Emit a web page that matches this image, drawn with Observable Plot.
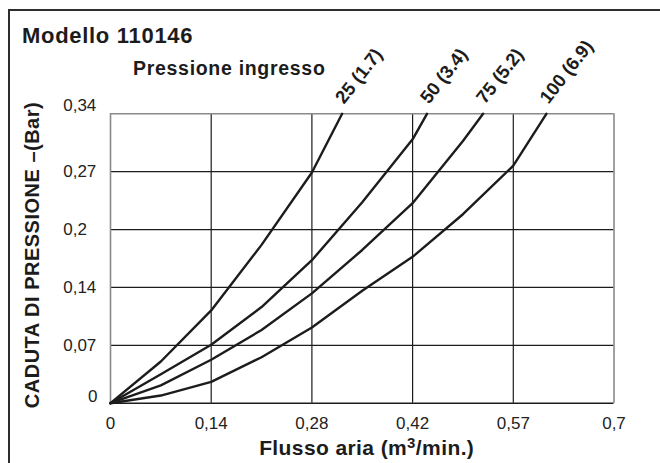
<!DOCTYPE html>
<html><head><meta charset="utf-8">
<script src="https://cdn.jsdelivr.net/npm/d3@7"></script>
<script src="https://cdn.jsdelivr.net/npm/@observablehq/plot@0.6"></script>
<style>
html,body{margin:0;padding:0;background:#fff;}
#wrap{position:relative;width:660px;height:463px;overflow:hidden;background:#fff;}
#wrap svg{position:absolute;left:0;top:0;}
#border{position:absolute;left:8px;top:9px;width:700px;height:500px;border-left:2.3px solid #2e2e2e;border-top:2.3px solid #2e2e2e;z-index:2;}
</style></head><body><div id="wrap"><div id="border"></div></div>
<script>
// ---- data ----
const series = ["25 (1.7)", "50 (3.4)", "75 (5.2)", "100 (6.9)"];
const flow25  = [0, 0.07, 0.14, 0.21, 0.28, 0.322];
const drop25  = [0, 0.049, 0.109, 0.186, 0.271, 0.34];
const flow50  = [0, 0.07, 0.14, 0.21, 0.28, 0.35, 0.42, 0.44];
const drop50  = [0, 0.034, 0.0686, 0.113, 0.168, 0.236, 0.31, 0.34];
const flow75  = [0, 0.07, 0.14, 0.21, 0.28, 0.35, 0.42, 0.49, 0.518];
const drop75  = [0, 0.021, 0.051, 0.086, 0.129, 0.18, 0.235, 0.308, 0.34];
const flow100 = [0, 0.07, 0.14, 0.21, 0.28, 0.35, 0.42, 0.49, 0.56, 0.606];
const drop100 = [0, 0.009, 0.025, 0.054, 0.089, 0.132, 0.172, 0.222, 0.279, 0.34];

const xTickValues = [0, 0.14, 0.28, 0.42, 0.56, 0.7];
const xTickLabels = ["0", "0,14", "0,28", "0,42", "0,57", "0,7"];
const yTickValues = [0, 0.068, 0.136, 0.204, 0.272, 0.34];
const yTickLabels = ["0", "0,07", "0,14", "0,2", "0,27", "0,34"];

const titleText = "Modello 110146";
const legendTitle = "Pressione ingresso";
const xLabel = ["Flusso aria (m", "3", "/min.)"];
const yLabel = "CADUTA DI PRESSIONE –(Bar)";

// ---- build table ----
const flows = [flow25, flow50, flow75, flow100];
const drops = [drop25, drop50, drop75, drop100];
const rows = series.flatMap((s, i) => flows[i].map((f, j) => ({series: s, flow: f, drop: drops[i][j]})));
const xLab = new Map(xTickValues.map((v, i) => [v, xTickLabels[i]]));
const yLab = new Map(yTickValues.map((v, i) => [v, yTickLabels[i]]));
const xMin = xTickValues[0], xMax = xTickValues[xTickValues.length - 1];
const yMin = yTickValues[0], yMax = yTickValues[yTickValues.length - 1];

const ink = "#1c1c1c";
const chart = Plot.plot({
  width: 660, height: 463,
  marginLeft: 110, marginRight: 46.5, marginTop: 113.3, marginBottom: 60.3,
  style: {fontFamily: "'Liberation Sans', Arial, sans-serif", fontSize: "17px", color: "#222", background: "transparent"},
  x: {domain: [xMin, xMax], axis: null},
  y: {domain: [yMin, yMax], axis: null},
  marks: [
    Plot.ruleX(xTickValues.filter(v => v > xMin && v < xMax), {stroke: ink, strokeWidth: 1.2}),
    Plot.ruleY(yTickValues.filter(v => v > yMin && v < yMax), {stroke: ink, strokeWidth: 1.2}),
    Plot.ruleX([xMin, xMax], {stroke: "#8a8a8a", strokeWidth: 1.6}),
    Plot.ruleY([yMax], {stroke: "#8a8a8a", strokeWidth: 1.6}),
    Plot.ruleY([yMin], {stroke: ink, strokeWidth: 1.4}),
    Plot.line(rows, {x: "flow", y: "drop", z: "series", stroke: ink, strokeWidth: 2.4, strokeLinejoin: "round"}),
    Plot.text(rows, Plot.selectLast({x: "flow", y: "drop", z: "series", text: "series",
      rotate: -52, textAnchor: "start", lineAnchor: "bottom", dx: 2, dy: -9,
      fontWeight: "bold", fontSize: 18.5, letterSpacing: 0.8, fill: ink})),
    // x tick labels
    Plot.text(xTickValues, {x: d => d, text: d => xLab.get(d), frameAnchor: "bottom",
      lineAnchor: "top", dy: 14, fontSize: 17, fill: "#222"}),
    // y tick labels
    Plot.text(yTickValues.filter(v => v > yMin && v < yMax), {y: d => d, text: d => yLab.get(d),
      frameAnchor: "left", textAnchor: "start", dx: -47.3, fontSize: 17, fill: "#222"}),
    Plot.text([yMax], {y: d => d, text: d => yLab.get(d),
      frameAnchor: "left", textAnchor: "start", dx: -47.3, dy: -8.5, fontSize: 17, fill: "#222"}),
    Plot.text([yMin], {y: d => d, text: d => yLab.get(d),
      frameAnchor: "left", textAnchor: "end", dx: -13, dy: -6.5, fontSize: 17, fill: "#222"})
  ]
});
document.getElementById("wrap").insertBefore(chart, document.getElementById("border"));

const svg = d3.select(chart);
const bold = "'Liberation Sans', Arial, sans-serif";
svg.append("text").attr("x", 22).attr("y", 42.7).attr("text-anchor", "start").text(titleText)
  .attr("font-family", bold).attr("font-weight", "bold").attr("font-size", 22)
  .attr("letter-spacing", 0.7).attr("fill", ink);
svg.append("text").attr("x", 133).attr("y", 75).attr("text-anchor", "start").text(legendTitle)
  .attr("font-family", bold).attr("font-weight", "bold").attr("font-size", 19.5)
  .attr("letter-spacing", 0.7).attr("fill", ink);
svg.append("text").attr("transform", "translate(39.3,255) rotate(-90)")
  .attr("text-anchor", "middle").text(yLabel)
  .attr("font-family", bold).attr("font-weight", "bold").attr("font-size", 20)
  .attr("letter-spacing", 0.5).attr("fill", ink);
const xl = svg.append("text").attr("x", 366.7).attr("y", 455).attr("text-anchor", "middle")
  .attr("font-family", bold).attr("font-weight", "bold").attr("font-size", 21)
  .attr("letter-spacing", 0.4).attr("fill", ink);
xl.append("tspan").text(xLabel[0]);
xl.append("tspan").attr("font-size", 15).attr("dy", -7).text(xLabel[1]);
xl.append("tspan").attr("dy", 7).text(xLabel[2]);
</script>
</body></html>
